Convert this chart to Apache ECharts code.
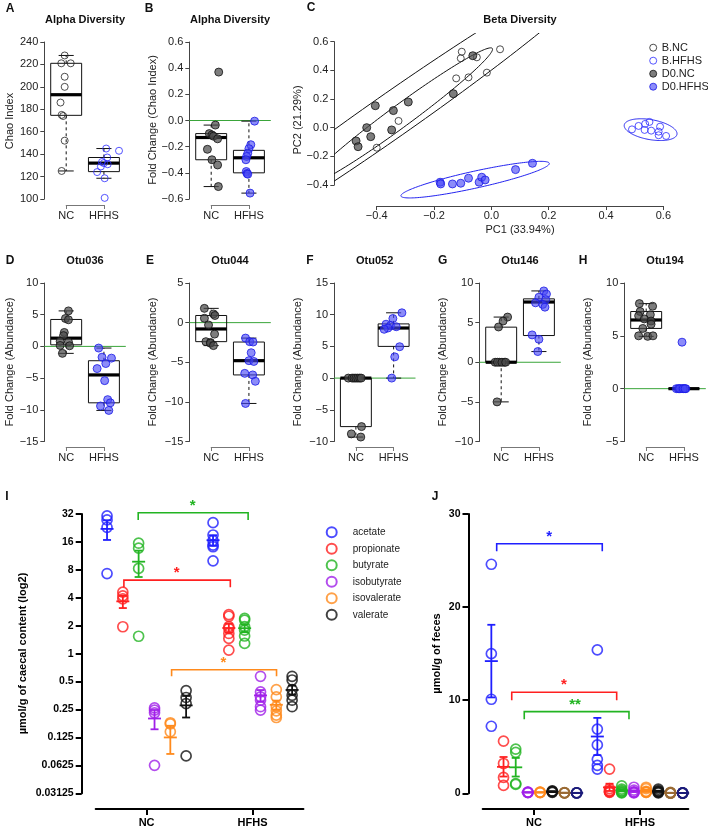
<!DOCTYPE html>
<html><head><meta charset="utf-8">
<script src="https://cdn.jsdelivr.net/npm/echarts@6/dist/echarts.min.js"></script>
<style>html,body{margin:0;padding:0;background:#fff}#c{width:708px;height:830px}</style>
</head><body><div id="c"></div><script>
// ---------------- DATA ----------------
const GROUPS = ['NC', 'HFHS'];
// Panel A: Chao index
const A_NC = [228, 221, 221, 209, 200, 186, 175, 174, 152, 125];
const A_NC_JIT = [-0.04, -0.13, 0.12, -0.04, -0.04, -0.15, -0.12, -0.08, -0.04, -0.12];
const A_HFHS = [145, 143, 137, 133, 132, 131, 129, 124, 118.5, 101];
const A_HFHS_JIT = [0.06, 0.40, 0.09, -0.05, 0.0, 0.10, -0.08, -0.18, 0.02, 0.02];
const A_BOX = [[125, 174.6, 193, 221, 228], [118.5, 124.4, 132, 137, 145]];
const A_TICKS = [100, 120, 140, 160, 180, 200, 220, 240];
// Panel B
const B_NC = [0.37, -0.035, -0.10, -0.11, -0.12, -0.14, -0.22, -0.30, -0.34, -0.505];
const B_NC_JIT = [0.2, 0.11, -0.05, 0.02, 0.06, 0.17, -0.10, 0.02, 0.17, 0.19];
const B_HFHS = [-0.005, -0.185, -0.215, -0.25, -0.275, -0.30, -0.39, -0.405, -0.41, -0.555];
const B_HFHS_JIT = [0.15, 0.05, 0, -0.03, -0.06, -0.08, -0.07, -0.05, -0.03, 0.03];
const B_BOX = [[-0.505, -0.30, -0.13, -0.10, -0.035], [-0.555, -0.40, -0.285, -0.228, -0.005]];
const B_TICKS = [-0.6, -0.4, -0.2, 0, 0.2, 0.4, 0.6];
// Panel D Otu036
const D_NC = [5.6, 4.4, 4.2, 2.2, 1.7, 0.8, 0.7, 0.15, 0.1, -1.1];
const D_NC_JIT = [0.06, -0.02, 0.06, -0.05, -0.07, -0.16, 0.06, -0.16, 0.09, -0.1];
const D_HFHS = [-0.26, -1.7, -1.85, -2.7, -3.5, -5.4, -8.4, -8.9, -9.4, -10.1];
const D_HFHS_JIT = [-0.14, -0.05, 0.2, 0.05, -0.18, 0.02, 0.1, 0.17, -0.09, 0.13];
const D_BOX = [[-1.1, 0.25, 1.3, 4.25, 5.6], [-10.1, -8.9, -4.5, -2.26, -0.26]];
const D_TICKS = [-15, -10, -5, 0, 5, 10];
// Panel E Otu044
const E_NC = [1.8, 1.1, 0.9, 0.55, -0.3, -1.45, -2.4, -2.5, -2.6, -2.9];
const E_NC_JIT = [-0.18, 0.06, 0.1, -0.18, -0.07, 0.09, -0.14, -0.02, -0.02, 0.06];
const E_HFHS = [-1.95, -2.4, -2.45, -3.8, -4.8, -4.9, -6.4, -6.6, -7.4, -10.2];
const E_HFHS_JIT = [-0.09, 0.02, 0.11, 0.06, 0, 0.13, -0.11, 0.1, 0.17, -0.09];
const E_BOX = [[-2.9, -2.4, -0.8, 0.9, 1.8], [-10.2, -6.6, -4.8, -2.45, -1.95]];
const E_TICKS = [-15, -10, -5, 0, 5];
// Panel F Otu052
const F_NC = [0, 0, 0, 0, 0, 0, 0, -7.65, -8.8, -9.3];
const F_NC_JIT = [-0.2, -0.1, -0.05, 0, 0.05, 0.1, 0.14, 0.15, -0.12, 0.13];
const F_HFHS = [10.3, 9.4, 8.5, 8.3, 8.1, 7.9, 7.7, 4.95, 3.35, 0];
const F_HFHS_JIT = [0.22, -0.02, -0.2, -0.08, 0.07, -0.15, -0.25, 0.16, 0.03, -0.05];
const F_BOX = [[-9.3, -7.65, 0, 0, 0], [0, 5.0, 7.9, 8.55, 10.3]];
const F_TICKS = [-10, -5, 0, 5, 10, 15];
// Panel G Otu146
const G_NC = [5.7, 5.2, 4.45, 0, 0, 0, 0, 0, 0, -5.0];
const G_NC_JIT = [0.17, 0.05, -0.07, -0.16, -0.04, 0.08, -0.1, 0.02, 0.12, -0.11];
const G_HFHS = [9.0, 8.6, 8.2, 7.9, 7.5, 7.3, 6.95, 3.45, 2.9, 1.35];
const G_HFHS_JIT = [0.13, 0.2, 0.0, 0.18, -0.09, 0.1, 0.16, -0.18, 0.0, -0.03];
const G_BOX = [[-5.0, 0, 0, 4.43, 5.7], [1.35, 3.37, 7.6, 8.0, 9.0]];
const G_TICKS = [-10, -5, 0, 5, 10];
// Panel H Otu194
const H_NC = [8.05, 7.8, 7.3, 7.0, 6.9, 6.6, 6.4, 6.1, 5.7, 5.0, 4.95, 5.0];
const H_NC_JIT = [-0.18, 0.17, -0.16, 0.11, -0.2, -0.05, 0.13, 0.13, -0.09, -0.2, 0.04, 0.18];
const H_HFHS = [4.4, 0, 0, 0, 0, 0, 0, 0, 0, 0];
const H_HFHS_JIT = [-0.05, -0.2, -0.15, -0.1, -0.05, 0, 0.05, -0.12, -0.02, 0.03];
const H_BOX = [[4.95, 5.7, 6.5, 7.3, 8.05], [0, 0, 0, 0, 0]];
const H_TICKS = [-5, 0, 5, 10];
// Panel C: PCoA
const C_NAMES = ['B.NC', 'B.HFHS', 'D0.NC', 'D0.HFHS'];
const C_BNC = [[-0.1035, 0.530], [-0.107, 0.484], [-0.051, 0.491], [-0.016, 0.384], [-0.080, 0.351], [-0.123, 0.344], [0.030, 0.547], [-0.324, 0.047], [-0.40, -0.140]];
const C_BHFHS = [[0.490, -0.012], [0.513, 0.012], [0.536, 0.026], [0.551, 0.040], [0.534, -0.016], [0.557, -0.021], [0.588, 0.007], [0.583, -0.028], [0.583, -0.053], [0.609, -0.058]];
const C_DNC = [[-0.065, 0.502], [-0.133, 0.237], [-0.290, 0.179], [-0.342, 0.119], [-0.405, 0.153], [-0.435, 0.0], [-0.421, -0.063], [-0.348, -0.016], [-0.472, -0.093], [-0.465, -0.133]];
const C_DHFHS = [[-0.179, -0.381], [-0.177, -0.393], [-0.136, -0.393], [-0.107, -0.388], [-0.080, -0.353], [-0.043, -0.381], [-0.034, -0.346], [-0.022, -0.365], [0.084, -0.293], [0.143, -0.249]];
// ellipses: [centerX, centerY, semiAxis1 dx, dy, semiAxis2 dx, dy]
const C_ELLIPSES = [
  [-0.353, 0.077, 0.762, 1.067, 0.0437, -0.1247],
  [-0.319, 0.079, 0.322, 0.474, 0.0228, -0.0619],
  [0.555, -0.014, 0.0919, -0.0326, -0.006, -0.0686],
  [-0.057, -0.363, 0.2587, 0.114, 0.0064, -0.0577]
];
const C_ELL_GROUP = [0, 0, 1, 1];
const C_TICKS = [-0.4, -0.2, 0, 0.2, 0.4, 0.6];
// Panel I: caecal SCFA (log2)
const SCFA = ['acetate', 'propionate', 'butyrate', 'isobutyrate', 'isovalerate', 'valerate'];
const I_NC = [[30.5, 27.6, 23, 7.3], [4.6, 4.2, 3.9, 1.95], [15.5, 13.7, 8.3, 1.54], [0.26, 0.246, 0.23, 0.0625], [0.18, 0.175, 0.144], [0.40, 0.337, 0.29, 0.079]];
const I_NC_MEAN = [22.1, 3.66, 9.8, 0.2, 0.125, 0.277];
const I_NC_ERR = [[16.8, 27.4], [3.1, 4.2], [6.7, 12.9], [0.153, 0.247], [0.083, 0.167], [0.205, 0.35]];
const I_HFHS = [[25.8, 19, 16.5, 14.8, 14.2, 10], [2.64, 2.53, 1.96, 1.87, 1.65, 1.46, 1.09], [2.4, 2.3, 1.96, 1.79, 1.55, 1.29], [0.57, 0.387, 0.342, 0.315, 0.268, 0.246], [0.41, 0.342, 0.268, 0.242, 0.218, 0.205], [0.57, 0.52, 0.41, 0.356, 0.315, 0.268]];
const I_HFHS_MEAN = [16.7, 1.89, 1.88, 0.355, 0.281, 0.406];
const I_HFHS_ERR = [[14.5, 18.9], [1.68, 2.1], [1.7, 2.06], [0.305, 0.405], [0.25, 0.312], [0.36, 0.452]];
const I_OFF = [-0.373, -0.224, -0.075, 0.075, 0.224, 0.373];
const I_TICKS = [0.03125, 0.0625, 0.125, 0.25, 0.5, 1, 2, 4, 8, 16, 32];
const I_TICK_LABELS = ['0.03125', '0.0625', '0.125', '0.25', '0.5', '1', '2', '4', '8', '16', '32'];
const I_BRACKETS = [[-0.079, 0.958, 33, 27.5], [-0.214, 0.79, 6.2, 5.2], [0.236, 1.226, 0.67, 0.57]];
const I_BRACKET_COL = [2, 1, 4];
const I_STARS = [[0.434, 42.4, '*'], [0.283, 8.1, '*'], [0.726, 0.85, '*']];
// Panel J: fecal SCFA
const J_NAMES = ['acetate', 'propionate', 'butyrate', 'isobutyrate', 'isovalerate', 'valerate', 'other1', 'other2'];
const J_NC = [[24.6, 15.0, 10.1, 7.2], [5.6, 3.2, 1.7, 0.85], [4.75, 4.4, 1.05, 0.95], [0.12, 0.1, 0.08, 0.1], [0.1, 0.08, 0.12, 0.1], [0.25, 0.2, 0.15, 0.1], [0.05, 0.05, 0.08, 0.04], [0.04, 0.05, 0.03, 0.06]];
const J_NC_MEAN = [14.2, 2.84, 2.79, 0.1, 0.1, 0.18, 0.055, 0.045];
const J_NC_ERR = [[10.3, 18.1], [1.8, 3.9], [1.8, 3.8], [0.09, 0.11], [0.09, 0.11], [0.13, 0.23], [0.05, 0.06], [0.04, 0.05]];
const J_HFHS = [[15.4, 6.9, 5.2, 3.65, 3.0, 2.6], [2.6, 0.5, 0.3, 0.2, 0.15, 0.1], [0.8, 0.45, 0.3, 0.2, 0.1, 0.05], [0.65, 0.35, 0.15, 0.1, 0.1, 0.05], [0.65, 0.5, 0.2, 0.15, 0.1, 0.1], [0.45, 0.3, 0.2, 0.15, 0.1, 0.05], [0.1, 0.05, 0.05, 0.03, 0.02, 0.02], [0.05, 0.04, 0.03, 0.02, 0.02, 0.02]];
const J_HFHS_MEAN = [6.1, 0.64, 0.32, 0.23, 0.28, 0.21, 0.045, 0.03];
const J_HFHS_ERR = [[4.1, 8.1], [0.25, 1.03], [0.2, 0.44], [0.14, 0.32], [0.18, 0.38], [0.14, 0.28], [0.03, 0.06], [0.02, 0.04]];
const J_OFF = [-0.4025, -0.2875, -0.1725, -0.0575, 0.0575, 0.1725, 0.2875, 0.4025];
const J_TICKS = [0, 10, 20, 30];
const J_BRACKETS = [[-0.352, 0.644, 26.8, 26.0], [-0.21, 0.78, 10.86, 10.0], [-0.092, 0.896, 8.77, 7.96]];
const J_BRACKET_COL = [0, 1, 2];
const J_STARS = [[0.144, 27.85, '*'], [0.283, 12.0, '*'], [0.387, 9.85, '**']];

// ---------------- STYLE ----------------
const FONT = '"Liberation Sans", Arial, Helvetica, sans-serif';
const AX = '#444', TX = '#222', GREEN = '#3aa53a';
const COLS = ['#1f1fff', '#ff2020', '#22b422', '#a020e8', '#ff8a1c', '#111111', '#9a6a33', '#1c1c7a'];
const OPEN_BLACK = { color: 'rgba(255,255,255,0)', borderColor: '#222', borderWidth: 1 };
const OPEN_BLUE = { color: 'rgba(255,255,255,0)', borderColor: '#2a2aff', borderWidth: 1 };
const FILL_GRAY = { color: 'rgba(75,75,75,0.9)', borderColor: '#111', borderWidth: 1 };
const FILL_BLUE = { color: 'rgba(70,70,245,0.78)', borderColor: '#1a1ae6', borderWidth: 1 };

const grids = [], xAxes = [], yAxes = [], series = [], G = [];
const XMIN = 0.42, XMAX = 2.58, PW = 81.5;
const ROW1 = { top: 42, bottom: 199, bracket: 205 };
const ROW2 = { top: 283, bottom: 441.5, bracket: 447 };

function fmt(v, dec) { return (v < 0 ? '\u2212' : '') + Math.abs(v).toFixed(dec); }
function L(p1, p2, style) { return { type: 'line', shape: { x1: p1[0], y1: p1[1], x2: p2[0], y2: p2[1] }, style: style }; }

function boxRender(params, api) {
  const x = api.value(0), lo = api.value(1), q1 = api.value(2), md = api.value(3), q3 = api.value(4), hi = api.value(5);
  const w = 0.41, s = 0.2;
  const P = (a, b) => api.coord([a, b]);
  const a = P(x - w, q3), b = P(x + w, q1);
  const solid = { stroke: '#111', lineWidth: 1 };
  const dash = { stroke: '#111', lineWidth: 1, lineDash: [3, 3] };
  return { type: 'group', children: [
    L(P(x, q3), P(x, hi), dash), L(P(x, q1), P(x, lo), dash),
    L(P(x - s, hi), P(x + s, hi), solid), L(P(x - s, lo), P(x + s, lo), solid),
    { type: 'rect', shape: { x: a[0], y: a[1], width: b[0] - a[0], height: b[1] - a[1] }, style: { fill: 'none', stroke: '#111', lineWidth: 1 } },
    L(P(x - w, md), P(x + w, md), { stroke: '#000', lineWidth: 3.2 })
  ] };
}
function zeroRender(params, api) {
  const cs = params.coordSys; const y = api.coord([1, api.value(1)])[1];
  return L([cs.x, y], [cs.x + cs.width, y], { stroke: GREEN, lineWidth: 1 });
}

function boxPanel(left, row, ticks, dec, boxes, groups, styles, zero) {
  const gi = grids.length;
  grids.push({ left: left, top: row.top, width: PW, height: row.bottom - row.top });
  const xi = xAxes.length;
  xAxes.push({ type: 'value', gridIndex: gi, min: XMIN, max: XMAX, show: false });
  const yi = yAxes.length;
  yAxes.push({ type: 'value', gridIndex: gi, min: ticks[0], max: ticks[ticks.length - 1],
    axisLine: { show: true, onZero: false, lineStyle: { color: AX } },
    axisTick: { show: true, length: 4, customValues: ticks, lineStyle: { color: AX } },
    axisLabel: { customValues: ticks, formatter: v => fmt(v, dec), fontSize: 11, color: TX, margin: 6, fontFamily: FONT },
    splitLine: { show: false } });
  const gb = grids.length;
  const bl = left + (1 - XMIN) / (XMAX - XMIN) * PW, bw = PW / (XMAX - XMIN);
  grids.push({ left: bl, width: bw, top: row.bracket - 10, height: 10 });
  xAxes.push({ type: 'value', gridIndex: gb, min: 1, max: 2, interval: 1,
    axisLine: { onZero: false, lineStyle: { color: '#777' } }, axisTick: { length: 4, lineStyle: { color: '#777' } },
    axisLabel: { formatter: v => GROUPS[v - 1], fontSize: 11, color: TX, margin: 5, fontFamily: FONT }, splitLine: { show: false } });
  yAxes.push({ type: 'value', gridIndex: gb, show: false });
  if (zero) series.push({ type: 'custom', xAxisIndex: xi, yAxisIndex: yi, z: 2, silent: true, data: [[1, 0]], renderItem: zeroRender });
  series.push({ type: 'custom', xAxisIndex: xi, yAxisIndex: yi, z: 3, silent: true, data: [[1].concat(boxes[0]), [2].concat(boxes[1])], renderItem: boxRender });
  groups.forEach((g, k) => series.push({ type: 'scatter', xAxisIndex: xi, yAxisIndex: yi, z: 5, silent: true,
    symbol: 'circle', symbolSize: styles[k].size, itemStyle: styles[k].st,
    data: g[0].map((v, i) => [k + 1 + g[1][i], v]) }));
}

const OPEN = [{ size: 7, st: OPEN_BLACK }, { size: 7, st: OPEN_BLUE }];
const FILL = [{ size: 8, st: FILL_GRAY }, { size: 8, st: FILL_BLUE }];
boxPanel(44.3, ROW1, A_TICKS, 0, A_BOX, [[A_NC, A_NC_JIT], [A_HFHS, A_HFHS_JIT]], OPEN, false);
boxPanel(189.3, ROW1, B_TICKS, 1, B_BOX, [[B_NC, B_NC_JIT], [B_HFHS, B_HFHS_JIT]], FILL, true);
boxPanel(44.3, ROW2, D_TICKS, 0, D_BOX, [[D_NC, D_NC_JIT], [D_HFHS, D_HFHS_JIT]], FILL, true);
boxPanel(189.3, ROW2, E_TICKS, 0, E_BOX, [[E_NC, E_NC_JIT], [E_HFHS, E_HFHS_JIT]], FILL, true);
boxPanel(334, ROW2, F_TICKS, 0, F_BOX, [[F_NC, F_NC_JIT], [F_HFHS, F_HFHS_JIT]], FILL, true);
boxPanel(479.3, ROW2, G_TICKS, 0, G_BOX, [[G_NC, G_NC_JIT], [G_HFHS, G_HFHS_JIT]], FILL, true);
boxPanel(624.3, ROW2, H_TICKS, 0, H_BOX, [[H_NC, H_NC_JIT], [H_HFHS, H_HFHS_JIT]], FILL, true);

// ---- Panel C ----
(function () {
  const gi = grids.length;
  grids.push({ left: 334.3, top: 33.1, width: 349.3, height: 172.9 });
  const xi = xAxes.length, yi = yAxes.length;
  xAxes.push({ type: 'value', gridIndex: gi, min: -0.548, max: 0.67, show: false });
  yAxes.push({ type: 'value', gridIndex: gi, min: -0.547, max: 0.66, show: false });
  const gy = grids.length;
  grids.push({ left: 334.3, top: 41.7, width: 10, height: 143.3 });
  xAxes.push({ type: 'value', gridIndex: gy, show: false });
  yAxes.push({ type: 'value', gridIndex: gy, min: -0.4, max: 0.6,
    axisLine: { show: true, onZero: false, lineStyle: { color: AX } }, axisTick: { show: true, length: 4, customValues: C_TICKS, lineStyle: { color: AX } },
    axisLabel: { customValues: C_TICKS, formatter: v => fmt(v, 1), fontSize: 11, color: TX, margin: 6, fontFamily: FONT }, splitLine: { show: false } });
  const gx = grids.length;
  grids.push({ left: 376.7, top: 196, width: 286.7, height: 10 });
  xAxes.push({ type: 'value', gridIndex: gx, min: -0.4, max: 0.6,
    axisLine: { show: true, onZero: false, lineStyle: { color: AX } }, axisTick: { show: true, length: 4, customValues: C_TICKS, lineStyle: { color: AX } },
    axisLabel: { customValues: C_TICKS, formatter: v => fmt(v, 1), fontSize: 11, color: TX, margin: 4, fontFamily: FONT }, splitLine: { show: false } });
  yAxes.push({ type: 'value', gridIndex: gx, show: false });
  series.push({ type: 'custom', xAxisIndex: xi, yAxisIndex: yi, z: 2, silent: true, clip: true,
    data: C_ELLIPSES.map((e, i) => e.concat([C_ELL_GROUP[i]])),
    renderItem: function (params, api) {
      const cx = api.value(0), cy = api.value(1);
      const c = api.coord([cx, cy]);
      const p1 = api.coord([cx + api.value(2), cy + api.value(3)]);
      const p2 = api.coord([cx + api.value(4), cy + api.value(5)]);
      const ax = [p1[0] - c[0], p1[1] - c[1]], bx = [p2[0] - c[0], p2[1] - c[1]];
      const pts = [];
      for (let k = 0; k < 180; k++) { const t = k / 180 * 2 * Math.PI; pts.push([c[0] + ax[0] * Math.cos(t) + bx[0] * Math.sin(t), c[1] + ax[1] * Math.cos(t) + bx[1] * Math.sin(t)]); }
      return { type: 'polygon', shape: { points: pts }, style: { fill: 'none', stroke: api.value(6) ? '#2323f0' : '#111', lineWidth: 1 } };
    } });
  const cdata = [C_BNC, C_BHFHS, C_DNC, C_DHFHS];
  const cst = [OPEN_BLACK, OPEN_BLUE, FILL_GRAY, FILL_BLUE];
  cdata.forEach((d, k) => series.push({ type: 'scatter', name: C_NAMES[k], xAxisIndex: xi, yAxisIndex: yi, z: 5, silent: true,
    symbol: 'circle', symbolSize: k < 2 ? 7 : 8, itemStyle: cst[k], data: d }));
})();

// ---- Panels I & J ----
function errRender(params, api) {
  const x = api.value(0), m = api.value(1), lo = api.value(2), hi = api.value(3);
  const pm = api.coord([x, m]), pl = api.coord([x, lo]), ph = api.coord([x, hi]);
  const st = { stroke: api.visual('color'), lineWidth: 1.8 };
  return { type: 'group', children: [
    L(pl, ph, st), L([pl[0] - 4, pl[1]], [pl[0] + 4, pl[1]], st), L([ph[0] - 4, ph[1]], [ph[0] + 4, ph[1]], st),
    L([pm[0] - 6.5, pm[1]], [pm[0] + 6.5, pm[1]], st)
  ] };
}
function bracketRender(params, api) {
  const x1 = api.value(0), x2 = api.value(1), t = api.value(2), e = api.value(3);
  const a = api.coord([x1, e]), b = api.coord([x1, t]), c = api.coord([x2, t]), d = api.coord([x2, e]);
  return { type: 'polyline', shape: { points: [a, b, c, d] }, style: { fill: 'none', stroke: api.visual('color'), lineWidth: 1.6 } };
}
function starRender(params, api) {
  const p = api.coord([api.value(0), api.value(1)]);
  return { type: 'text', x: p[0], y: p[1] + 3, style: { text: api.value(2), font: 'bold 15px ' + FONT, fill: api.visual('color'), align: 'center', verticalAlign: 'middle', textAlign: 'center', textVerticalAlign: 'middle' } };
}
function scfaPanel(left, isLog, names, nc, ncMean, ncErr, hf, hfMean, hfErr, offs, brackets, bcol, stars, yOffset, xmin, xmax) {
  const gi = grids.length;
  grids.push({ left: left, top: 514, width: (xmax - xmin) * 106, height: 279.3 });
  const xi = xAxes.length, yi = yAxes.length;
  xAxes.push({ type: 'value', gridIndex: gi, min: xmin, max: xmax, offset: 15.7,
    axisLine: { show: true, onZero: false, lineStyle: { color: '#000', width: 2 } },
    axisTick: { show: true, length: 6, customValues: [0, 1], lineStyle: { color: '#000', width: 2 } },
    axisLabel: { customValues: [0, 1], formatter: v => GROUPS[Math.round(v)], fontSize: 11, fontWeight: 'bold', color: '#000', margin: 8, fontFamily: FONT },
    splitLine: { show: false } });
  const yax = { gridIndex: gi, offset: yOffset,
    axisLine: { show: true, onZero: false, lineStyle: { color: '#000', width: 2 } },
    axisTick: { show: true, length: 6, lineStyle: { color: '#000', width: 2 } },
    axisLabel: { fontSize: 10.5, fontWeight: 'bold', color: '#000', margin: 8, fontFamily: FONT },
    splitLine: { show: false } };
  if (isLog) {
    Object.assign(yax, { type: 'log', logBase: 2, min: I_TICKS[0], max: I_TICKS[I_TICKS.length - 1] });
    yax.axisTick.customValues = I_TICKS; yax.axisLabel.customValues = I_TICKS;
    yax.axisLabel.formatter = v => { const i = I_TICKS.findIndex(t => Math.abs(t - v) / t < 1e-6); return i >= 0 ? I_TICK_LABELS[i] : ''; };
  } else {
    Object.assign(yax, { type: 'value', min: J_TICKS[0], max: J_TICKS[J_TICKS.length - 1] });
    yax.axisTick.customValues = J_TICKS; yax.axisLabel.customValues = J_TICKS;
  }
  yAxes.push(yax);
  names.forEach((n, k) => {
    const col = COLS[k];
    series.push({ type: 'custom', xAxisIndex: xi, yAxisIndex: yi, z: 4, silent: true, itemStyle: { color: col },
      data: [[0 + offs[k], ncMean[k], ncErr[k][0], ncErr[k][1]], [1 + offs[k], hfMean[k], hfErr[k][0], hfErr[k][1]]], renderItem: errRender });
    series.push({ type: 'scatter', name: n, xAxisIndex: xi, yAxisIndex: yi, z: 5, silent: true, symbol: 'circle', symbolSize: 10,
      itemStyle: { color: 'rgba(255,255,255,0)', borderColor: col, borderWidth: 1.7 },
      data: nc[k].map(v => [0 + offs[k], v]).concat(hf[k].map(v => [1 + offs[k], v])) });
  });
  brackets.forEach((b, i) => {
    series.push({ type: 'custom', xAxisIndex: xi, yAxisIndex: yi, z: 6, silent: true, itemStyle: { color: COLS[bcol[i]] }, data: [b], renderItem: bracketRender });
    series.push({ type: 'custom', xAxisIndex: xi, yAxisIndex: yi, z: 6, silent: true, itemStyle: { color: COLS[bcol[i]] }, data: [stars[i]], renderItem: starRender,
      dimensions: ['x', 'y', { name: 't', type: 'ordinal' }] });
  });
}
scfaPanel(95.7, true, SCFA, I_NC, I_NC_MEAN, I_NC_ERR, I_HFHS, I_HFHS_MEAN, I_HFHS_ERR, I_OFF, I_BRACKETS, I_BRACKET_COL, I_STARS, 14, -0.48, 1.48);
scfaPanel(482.7, false, J_NAMES, J_NC, J_NC_MEAN, J_NC_ERR, J_HFHS, J_HFHS_MEAN, J_HFHS_ERR, J_OFF, J_BRACKETS, J_BRACKET_COL, J_STARS, 14.2, -0.484, 1.456);

// ---------------- TEXT ----------------
function T(x, y, text, size, bold, rot, fill) {
  G.push({ type: 'text', x: x, y: y, rotation: rot || 0, silent: true,
    style: { text: text, font: (bold ? 'bold ' : '') + size + 'px ' + FONT, fill: fill || '#111', align: 'center', verticalAlign: 'middle', textAlign: 'center', textVerticalAlign: 'middle' } });
}
const R90 = Math.PI / 2;
[['A', 10, 9], ['B', 149, 9], ['C', 311, 8], ['D', 10, 261], ['E', 150, 261], ['F', 310, 261], ['G', 442.7, 261], ['H', 583, 261], ['I', 7, 497], ['J', 435, 497]]
  .forEach(a => T(a[1], a[2], a[0], 12, true));
T(85, 19.5, 'Alpha Diversity', 11, true); T(230, 19.5, 'Alpha Diversity', 11, true); T(520, 19.5, 'Beta Diversity', 11, true);
[['Otu036', 85], ['Otu044', 230], ['Otu052', 374.7], ['Otu146', 520], ['Otu194', 665]].forEach(a => T(a[1], 261, a[0], 11, true));
T(10, 121, 'Chao Index', 11, false, R90, TX);
T(153.3, 120, 'Fold Change (Chao Index)', 11, false, R90, TX);
T(298.3, 120, 'PC2 (21.29%)', 11, false, R90, TX);
T(520, 230, 'PC1 (33.94%)', 11, false, 0, TX);
[9.5, 153.3, 298.3, 443.3, 588.3].forEach(x => T(x, 362, 'Fold Change (Abundance)', 11, false, R90, TX));
T(22.7, 653.5, 'µmol/g of caecal content (log2)', 11, true, R90, '#000');
T(436.7, 653.5, 'µmol/g of feces', 11, true, R90, '#000');

const C_LEG_STYLES = [OPEN_BLACK, OPEN_BLUE, FILL_GRAY, FILL_BLUE];
const option = {
  animation: false, backgroundColor: '#fff', textStyle: { fontFamily: FONT },
  grid: grids, xAxis: xAxes, yAxis: yAxes, series: series,
  legend: [
    { data: C_NAMES.map((n, k) => ({ name: n, icon: 'circle', itemStyle: C_LEG_STYLES[k] })),
      orient: 'vertical', left: 649.2, top: 41.2, padding: 0, itemWidth: 7, itemHeight: 7, itemGap: 0, selectedMode: false,
      textStyle: { fontSize: 11, color: TX, lineHeight: 13, fontFamily: FONT } },
    { data: SCFA.map((n, k) => ({ name: n, icon: 'circle', itemStyle: { color: 'rgba(255,255,255,0)', borderColor: COLS[k], borderWidth: 2 } })),
      orient: 'vertical', left: 325.7, top: 524, padding: 0, itemWidth: 10, itemHeight: 10, itemGap: 0, selectedMode: false,
      textStyle: { fontSize: 10, color: TX, lineHeight: 16.5, fontFamily: FONT, padding: [0, 0, 0, 11] } }
  ],
  graphic: { elements: G }
};
const chart = echarts.init(document.getElementById('c'), null, { renderer: 'canvas' });
chart.setOption(option);
</script></body></html>
